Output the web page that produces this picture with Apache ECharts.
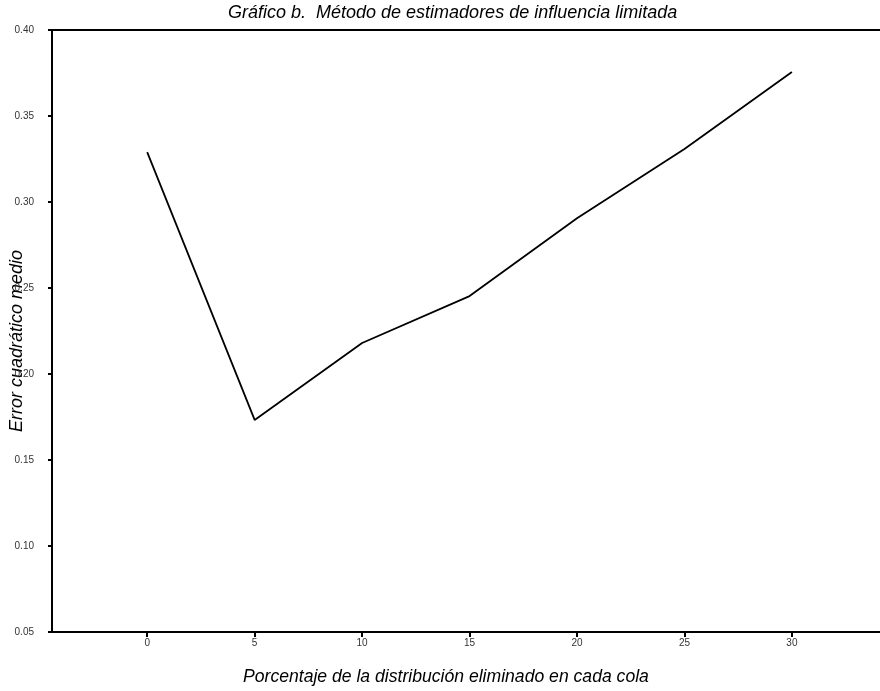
<!DOCTYPE html>
<html>
<head>
<meta charset="utf-8">
<script src="https://cdn.jsdelivr.net/npm/echarts@6/dist/echarts.min.js"></script>
<style>html,body{margin:0;padding:0;background:#fff}#c{width:880px;height:691px}</style>
</head>
<body>
<div id="c"></div>
<script>
const categories = [0, 5, 10, 15, 20, 25, 30];
const errorValues = [0.329, 0.1733, 0.218, 0.2453, 0.2905, 0.3308, 0.3756];
const xTicks = [0, 5, 10, 15, 20, 25, 30];
const yTicks = [0.05, 0.10, 0.15, 0.20, 0.25, 0.30, 0.35, 0.40];
const titleText = 'Gráfico b.  Método de estimadores de influencia limitada';
const xName = 'Porcentaje de la distribución eliminado en cada cola';
const yName = 'Error cuadrático medio';

const chart = echarts.init(document.getElementById('c'));
const font = 'Liberation Sans, Arial, sans-serif';
chart.setOption({
  animation: false,
  grid: { left: 52, right: 0, top: 30, bottom: 59 },
  xAxis: [{
    type: 'value', min: -4.43, max: 34.1,
    axisLine: { show: true, onZero: false, lineStyle: { color: '#000', width: 2 } },
    axisTick: { show: true, customValues: xTicks, length: 5, inside: false, lineStyle: { color: '#000', width: 2 } },
    axisLabel: { customValues: xTicks, fontSize: 10, color: '#333', fontFamily: font, margin: 6 },
    splitLine: { show: false }
  }, {
    type: 'value', position: 'top', min: -4.43, max: 34.1,
    axisLine: { show: true, onZero: false, lineStyle: { color: '#000', width: 2 } },
    axisTick: { show: false }, axisLabel: { show: false }, splitLine: { show: false }
  }],
  yAxis: {
    type: 'value', min: 0.05, max: 0.40, interval: 0.05,
    axisLine: { show: true, onZero: false, lineStyle: { color: '#000', width: 2 } },
    axisTick: { show: true, length: 4, lineStyle: { color: '#000', width: 2 } },
    axisLabel: { fontSize: 10, color: '#333', fontFamily: font, margin: 18,
      formatter: v => v.toFixed(2) },
    splitLine: { show: false }
  },
  graphic: [
    { type: 'text', left: 228, top: 4, style: { text: titleText, font: 'italic 18px ' + font, fill: '#000' } },
    { type: 'text', left: 243, top: 668, style: { text: xName, font: 'italic 17.6px ' + font, fill: '#000' } },
    { type: 'text', x: 17, y: 341, rotation: Math.PI / 2, style: { text: yName, font: 'italic 18px ' + font, fill: '#000', align: 'center', verticalAlign: 'middle' } }
  ],
  series: [{
    type: 'line',
    data: categories.map((c, i) => [c, errorValues[i]]),
    showSymbol: false, symbol: 'none',
    lineStyle: { color: '#000', width: 1.8 }
  }]
});
</script>
</body>
</html>
